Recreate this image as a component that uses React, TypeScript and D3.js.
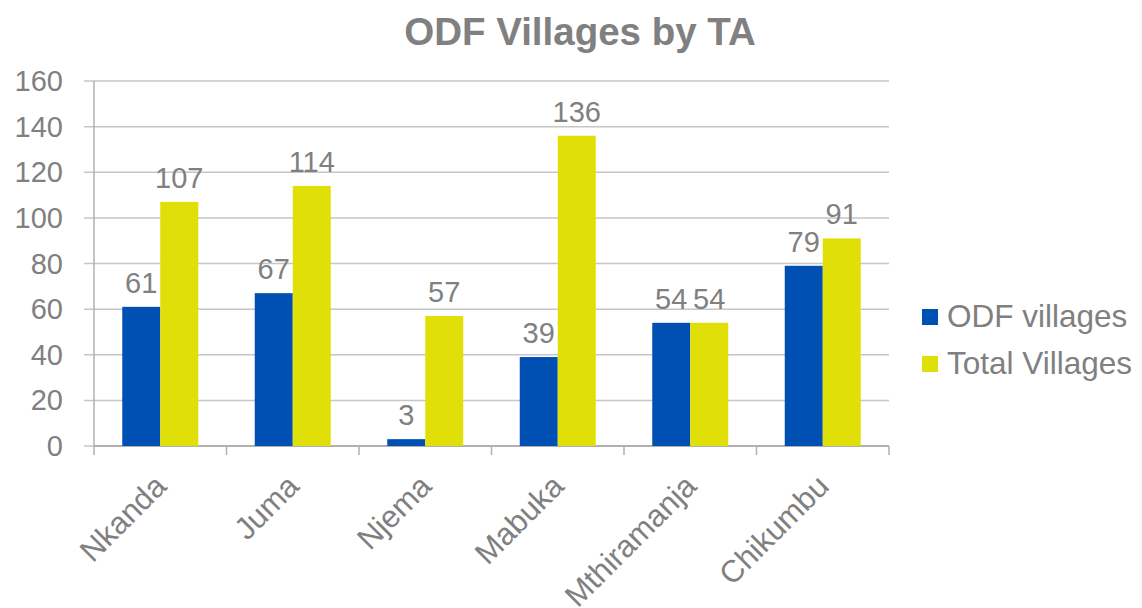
import * as d3 from "d3";

const categories = ["Nkanda", "Juma", "Njema", "Mabuka", "Mthiramanja", "Chikumbu"];
const odfVillages = [61, 67, 3, 39, 54, 79];
const totalVillages = [107, 114, 57, 136, 54, 91];
const seriesNames = ["ODF villages", "Total Villages"];
const seriesColors = ["#0050b4", "#e1df08"];
const yTicks = [0, 20, 40, 60, 80, 100, 120, 140, 160];

export default function App() {
  const width = 1142;
  const height = 608;
  const margin = { left: 94, right: 253, top: 81, bottom: 162 };
  const textColor = "#808080";
  const font = "'Liberation Sans', Arial, sans-serif";

  const x = d3.scaleBand(categories, [margin.left, width - margin.right]);
  const inner = d3.scaleBand([0, 1], [0, 76]);
  const y = d3.scaleLinear([0, 160], [height - margin.bottom, margin.top]);
  const series = [odfVillages, totalVillages];
  const x0 = margin.left;
  const x1 = width - margin.right;

  return (
    <svg width={width} height={height} style={{ position: "absolute", left: 0, top: 0 }} fontFamily={font}>
      <text x={580} y={45} textAnchor="middle" fontSize={38.5} fontWeight="bold" fill={textColor}>
        ODF Villages by TA
      </text>
      {yTicks.map((t) => (
        <g key={t}>
          <line x1={x0 - 10} x2={x1} y1={y(t)} y2={y(t)} stroke="#c6c6c6" strokeWidth={1.5} />
          <text x={63} y={y(t) + 10} textAnchor="end" fontSize={29} fill={textColor}>{t}</text>
        </g>
      ))}
      <line x1={x0} x2={x0} y1={y(160)} y2={y(0)} stroke="#b0b0b0" strokeWidth={1.5} />
      <line x1={x0} x2={x1} y1={y(0)} y2={y(0)} stroke="#b0b0b0" strokeWidth={2} />
      {d3.range(categories.length + 1).map((i) => {
        const xx = x0 + i * x.bandwidth();
        return <line key={i} x1={xx} x2={xx} y1={y(0)} y2={y(0) + 9} stroke="#b0b0b0" strokeWidth={1.5} />;
      })}
      {categories.map((c, i) => {
        const gx = (x(c) ?? 0) + (x.bandwidth() - 76) / 2;
        return (
          <g key={c}>
            {series.map((s, j) => {
              const bx = gx + (inner(j) ?? 0);
              return (
                <g key={j}>
                  <rect x={bx} y={y(s[i])} width={inner.bandwidth()} height={y(0) - y(s[i])} fill={seriesColors[j]} />
                  <text x={bx + inner.bandwidth() / 2} y={y(s[i]) - 14} textAnchor="middle" fontSize={29} fill={textColor}>
                    {s[i]}
                  </text>
                </g>
              );
            })}
            <text
              transform={`translate(${(x(c) ?? 0) + x.bandwidth() / 2 + 8},${y(0) + 42}) rotate(-45)`}
              textAnchor="end"
              fontSize={31}
              fill={textColor}
            >
              {c}
            </text>
          </g>
        );
      })}
      {seriesNames.map((n, j) => (
        <g key={n} transform={`translate(922,${309 + j * 47})`}>
          <rect x={0} y={0} width={16} height={16} fill={seriesColors[j]} />
          <text x={25} y={18} fontSize={31.5} fill={textColor}>{n}</text>
        </g>
      ))}
    </svg>
  );
}
